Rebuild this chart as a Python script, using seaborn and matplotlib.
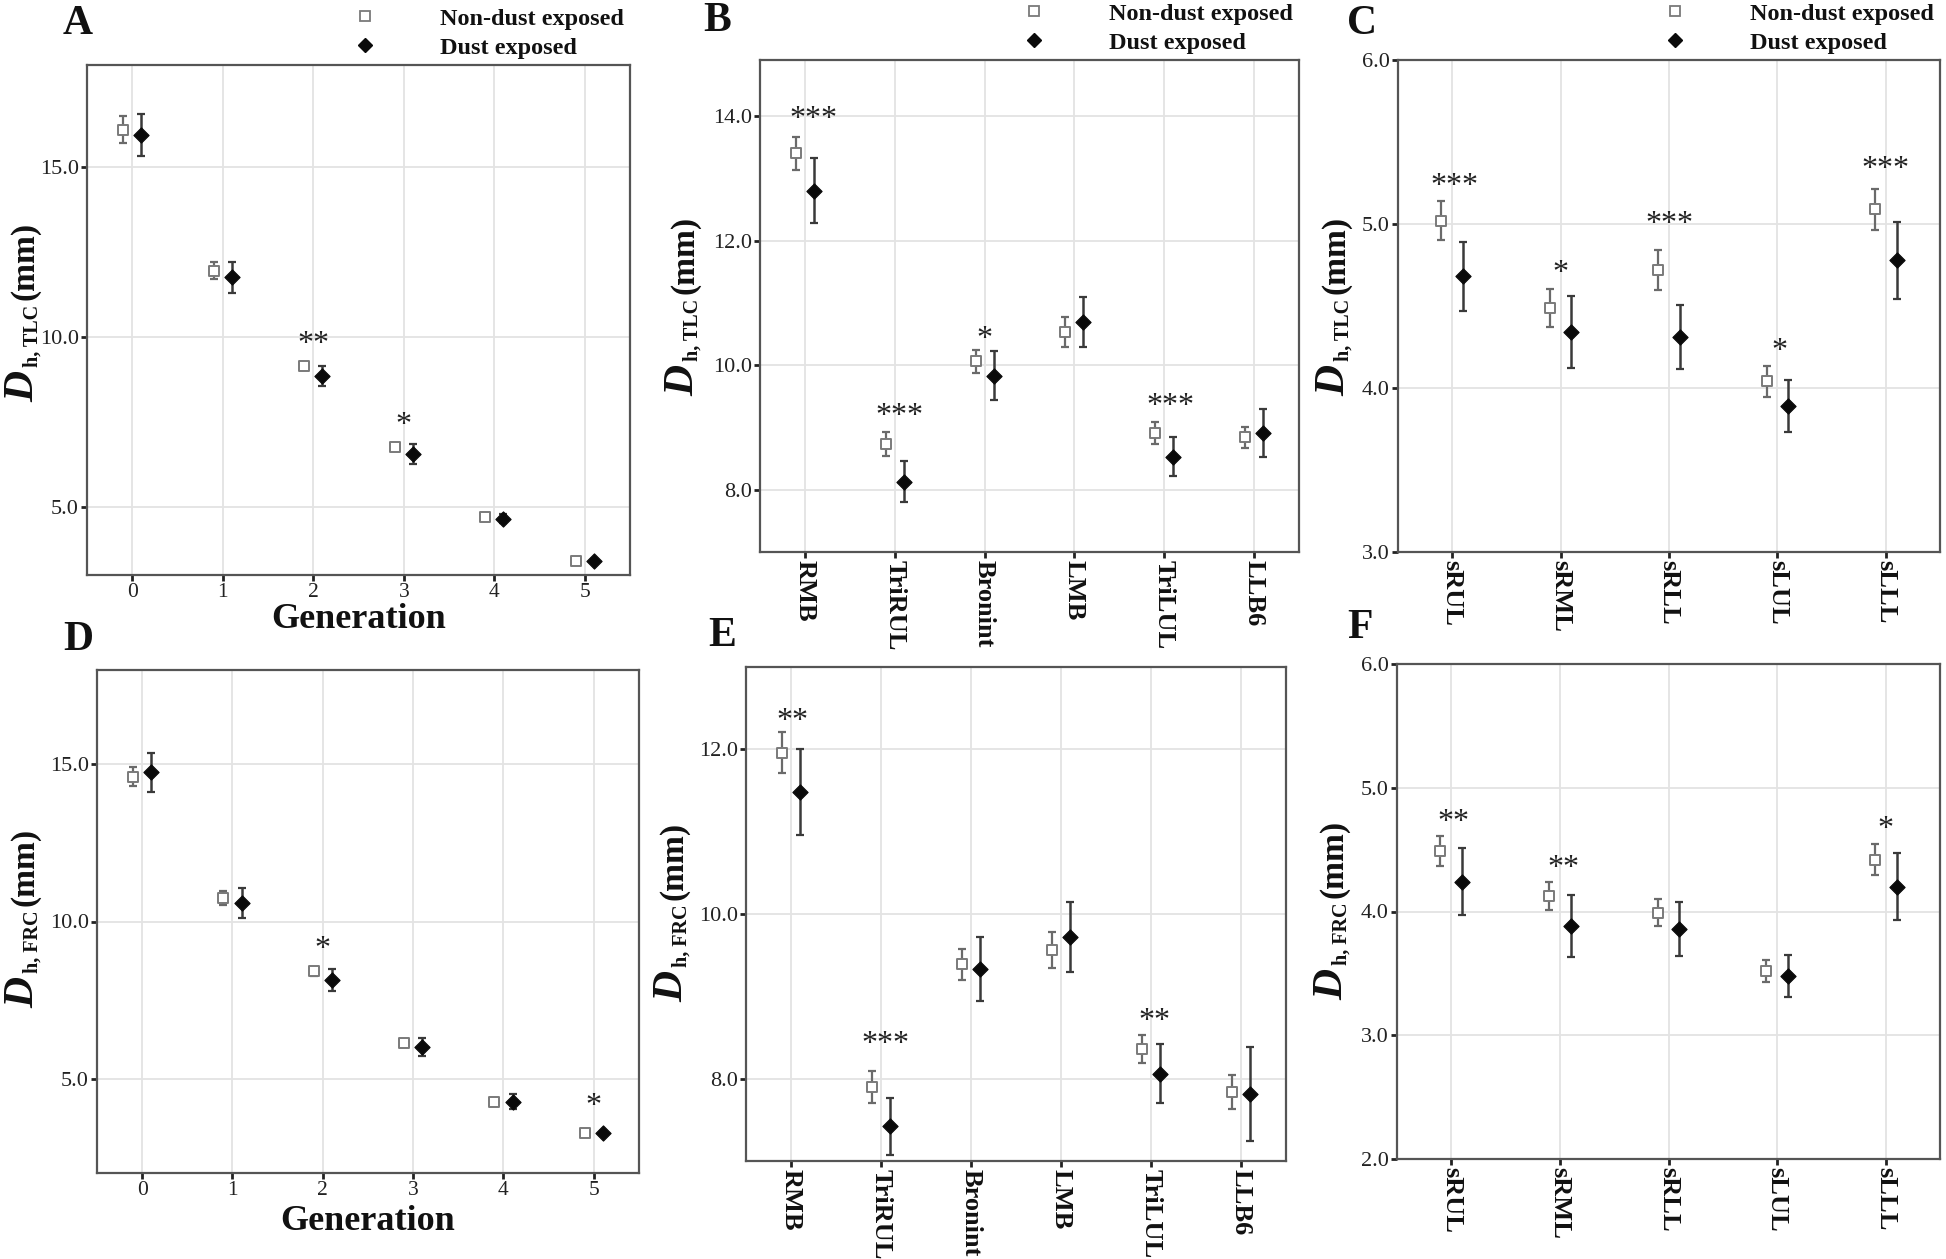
import numpy as np
import pandas as pd
import matplotlib
matplotlib.use("Agg")
import matplotlib.pyplot as plt
from matplotlib.lines import Line2D
import seaborn as sns

# ---------------- data ----------------
generations = ["0", "1", "2", "3", "4", "5"]
airways = ["RMB", "TriRUL", "Bronint", "LMB", "TriLUL", "LLB6"]
lobes = ["sRUL", "sRML", "sRLL", "sLUL", "sLLL"]

# Panel A: generation, TLC
a_non = [16.10, 11.95, 9.16, 6.77, 4.72, 3.41]
a_non_err = [0.40, 0.25, 0.10, 0.10, 0.06, 0.05]
a_dust = [15.94, 11.76, 8.86, 6.55, 4.66, 3.41]
a_dust_err = [0.62, 0.46, 0.30, 0.30, 0.12, 0.06]
a_star_pos = [2.0, 3.0]
a_star_y = [9.77, 7.40]
a_star_txt = ["**", "*"]

# Panel B: central airways, TLC
b_non = [13.40, 8.73, 10.06, 10.53, 8.91, 8.84]
b_non_err = [0.26, 0.19, 0.19, 0.24, 0.17, 0.17]
b_dust = [12.80, 8.13, 9.83, 10.69, 8.53, 8.91]
b_dust_err = [0.52, 0.33, 0.39, 0.40, 0.31, 0.39]
b_star_pos = [0.1, 1.05, 2.0, 4.07]
b_star_y = [13.95, 9.18, 10.41, 9.33]
b_star_txt = ["***", "***", "*", "***"]

# Panel C: lobar segments, TLC
c_non = [5.02, 4.49, 4.72, 4.04, 5.09]
c_non_err = [0.12, 0.115, 0.12, 0.095, 0.125]
c_dust = [4.68, 4.34, 4.31, 3.89, 4.78]
c_dust_err = [0.21, 0.22, 0.195, 0.16, 0.235]
c_star_pos = [0.02, 1.0, 2.0, 3.02, 4.0]
c_star_y = [5.23, 4.70, 4.995, 4.22, 5.33]
c_star_txt = ["***", "*", "***", "*", "***"]

# Panel D: generation, FRC
d_non = [14.60, 10.74, 8.41, 6.15, 4.27, 3.27]
d_non_err = [0.30, 0.22, 0.13, 0.08, 0.05, 0.04]
d_dust = [14.74, 10.58, 8.13, 6.02, 4.27, 3.27]
d_dust_err = [0.63, 0.47, 0.35, 0.29, 0.24, 0.06]
d_star_pos = [2.0, 5.0]
d_star_y = [9.11, 4.13]
d_star_txt = ["*", "*"]

# Panel E: central airways, FRC
e_non = [11.96, 7.90, 9.39, 9.56, 8.36, 7.84]
e_non_err = [0.25, 0.19, 0.19, 0.22, 0.17, 0.21]
e_dust = [11.48, 7.42, 9.33, 9.72, 8.06, 7.81]
e_dust_err = [0.52, 0.35, 0.39, 0.43, 0.36, 0.57]
e_star_pos = [0.02, 1.05, 4.04]
e_star_y = [12.34, 8.42, 8.69]
e_star_txt = ["**", "***", "**"]

# Panel F: lobar segments, FRC
f_non = [4.49, 4.125, 3.99, 3.52, 4.42]
f_non_err = [0.12, 0.11, 0.11, 0.09, 0.125]
f_dust = [4.24, 3.88, 3.86, 3.48, 4.20]
f_dust_err = [0.27, 0.25, 0.22, 0.17, 0.27]
f_star_pos = [0.02, 1.03, 4.0]
f_star_y = [4.72, 4.35, 4.66]
f_star_txt = ["**", "**", "*"]

group_labels = ["Non-dust exposed", "Dust exposed"]

# ---------------- style ----------------
sns.set_theme(style="whitegrid")
plt.rcParams["font.family"] = ["Liberation Serif", "DejaVu Serif"]

W, H = 1946, 1259
fig = plt.figure(figsize=(W / 100, H / 100), dpi=100)
fig.patch.set_facecolor("white")

NON_EDGE = "#7a7a7a"
NON_BAR = "#6a6a6a"
DUST_COL = "#0a0a0a"
DUST_BAR = "#3a3a3a"
DODGE = 0.1


def add_axes(l, r, t, b):
    return fig.add_axes([l / W, 1 - b / H, (r - l) / W, (b - t) / H])


def draw_panel(ax, cats, non, non_err, dust, dust_err, ylim, yticks,
               stars_pos, stars_y, stars_txt, rotated,
               xlabel=None, xlab_y=None):
    pos = np.arange(len(cats))
    df = pd.DataFrame({
        "pos": np.concatenate([pos - DODGE, pos + DODGE]),
        "mean": np.concatenate([non, dust]),
        "err": np.concatenate([non_err, dust_err]),
        "group": [group_labels[0]] * len(cats) + [group_labels[1]] * len(cats),
    })
    dn = df[df.group == group_labels[0]]
    dd = df[df.group == group_labels[1]]
    ax.errorbar(dn["pos"], dn["mean"], yerr=dn["err"], fmt="none",
                ecolor=NON_BAR, elinewidth=1.6, capsize=3.2, capthick=1.6, zorder=2)
    ax.errorbar(dd["pos"], dd["mean"], yerr=dd["err"], fmt="none",
                ecolor=DUST_BAR, elinewidth=1.8, capsize=3.2, capthick=1.6, zorder=2)
    sns.scatterplot(data=dn, x="pos", y="mean", marker="s", s=55,
                    facecolor="white", edgecolor=NON_EDGE, linewidth=1.4,
                    ax=ax, zorder=3, legend=False)
    sns.scatterplot(data=dd, x="pos", y="mean", marker="D", s=60,
                    color=DUST_COL, edgecolor=DUST_COL, linewidth=0.8,
                    ax=ax, zorder=3, legend=False)
    for xp, yp, tx in zip(stars_pos, stars_y, stars_txt):
        ax.text(xp, yp, tx, ha="center", va="center", fontsize=23,
                color="#222222")
    ax.set_xlim(-0.5, len(cats) - 0.5)
    ax.set_ylim(*ylim)
    ax.set_xticks(pos)
    if rotated:
        ax.set_xticklabels(cats, rotation=270, fontsize=19, fontweight="bold",
                           va="top", ha="center", color="#111111")
    else:
        ax.set_xticklabels(cats, fontsize=15.5, color="#222222")
    ax.set_yticks(yticks)
    ax.set_yticklabels([f"{v:.1f}" for v in yticks], fontsize=16, color="#222222")
    ax.set_xlabel("")
    ax.set_ylabel("")
    if xlabel:
        ax.set_xlabel(xlabel, fontsize=26, fontweight="bold", color="#111111")
        ax.xaxis.label.set_verticalalignment("center")
        ax.xaxis.set_label_coords(0.5, xlab_y)
    ax.grid(True, color="#e3e3e3", linewidth=1.3)
    ax.set_axisbelow(True)
    for sp in ax.spines.values():
        sp.set_visible(True)
        sp.set_color("#555555")
        sp.set_linewidth(1.6)
    ax.tick_params(axis="both", which="major", length=4, width=2.0,
                   color="#222222", pad=2, bottom=True, left=True)
    ax.set_facecolor("white")


def add_legend(ax):
    handles = [
        Line2D([], [], linestyle="none", marker="s", markersize=7,
               markerfacecolor="white", markeredgecolor=NON_EDGE, markeredgewidth=1.3),
        Line2D([], [], linestyle="none", marker="D", markersize=7,
               markerfacecolor=DUST_COL, markeredgecolor=DUST_COL),
    ]
    leg = ax.legend(handles, group_labels, loc="lower right",
                    bbox_to_anchor=(1.0, 1.0), frameon=False,
                    prop={"family": "Liberation Serif", "weight": "bold", "size": 17.5},
                    handlelength=1.0, handletextpad=2.6, labelspacing=0.3,
                    borderpad=0.25, borderaxespad=0.0)
    for t in leg.get_texts():
        t.set_color("#111111")


def stacked_ylabel(x_base, y_center, sub):
    """Rotated y label 'D_{h, sub} (mm)' built from text pieces (pixels, top-left origin)."""
    renderer = fig.canvas.get_renderer()
    pieces = [("D", 31, "italic", 0, 4),
              ("h, " + sub, 14.5, "normal", 5, 4),
              ("(mm)", 24, "normal", 0, 0)]
    made = []
    for s, size, style, dx, gap in pieces:
        t = fig.text(0, 0, s, fontsize=size, fontweight="bold", fontstyle=style,
                     rotation=90, rotation_mode="anchor", ha="left",
                     va="baseline", color="#111111")
        made.append((t, dx, gap))
    lengths = [t.get_window_extent(renderer).height for t, _, _ in made]
    total = sum(lengths) + sum(g for _, _, g in made)
    y = (H - y_center) - total / 2
    for (t, dx, gap), L in zip(made, lengths):
        t.set_position(((x_base + dx) / W, y / H))
        y += L + gap


axA = add_axes(87, 630, 65, 575)
axB = add_axes(760, 1299, 60, 552)
axC = add_axes(1398, 1940, 60, 552)
axD = add_axes(97, 639, 670, 1173)
axE = add_axes(746, 1286, 667, 1161)
axF = add_axes(1397, 1940, 664, 1159)

draw_panel(axA, generations, a_non, a_non_err, a_dust, a_dust_err, (3, 18),
           [5, 10, 15], a_star_pos, a_star_y, a_star_txt, False,
           "Generation", -0.088)
draw_panel(axB, airways, b_non, b_non_err, b_dust, b_dust_err, (7, 14.9),
           [8, 10, 12, 14], b_star_pos, b_star_y, b_star_txt, True)
draw_panel(axC, lobes, c_non, c_non_err, c_dust, c_dust_err, (3, 6),
           [3, 4, 5, 6], c_star_pos, c_star_y, c_star_txt, True)
draw_panel(axD, generations, d_non, d_non_err, d_dust, d_dust_err, (2, 18),
           [5, 10, 15], d_star_pos, d_star_y, d_star_txt, False,
           "Generation", -0.097)
draw_panel(axE, airways, e_non, e_non_err, e_dust, e_dust_err, (7, 13),
           [8, 10, 12], e_star_pos, e_star_y, e_star_txt, True)
draw_panel(axF, lobes, f_non, f_non_err, f_dust, f_dust_err, (2, 6),
           [2, 3, 4, 5, 6], f_star_pos, f_star_y, f_star_txt, True)

for ax in (axA, axB, axC):
    add_legend(ax)

for xb, yc, sub in [(33, 312, "TLC"), (693, 306, "TLC"), (1344, 306, "TLC"),
                    (33, 918, "FRC"), (682, 912, "FRC"), (1342, 910, "FRC")]:
    stacked_ylabel(xb, yc, sub)

for lab, x, y in [("A", 78, 24), ("B", 717, 21), ("C", 1362, 24),
                  ("D", 78, 640), ("E", 722, 636), ("F", 1360, 628)]:
    fig.text(x / W, 1 - y / H, lab, fontsize=30, fontweight="bold",
             ha="center", va="center", color="#111111")

fig.savefig("out.png", dpi=100, facecolor="white")
